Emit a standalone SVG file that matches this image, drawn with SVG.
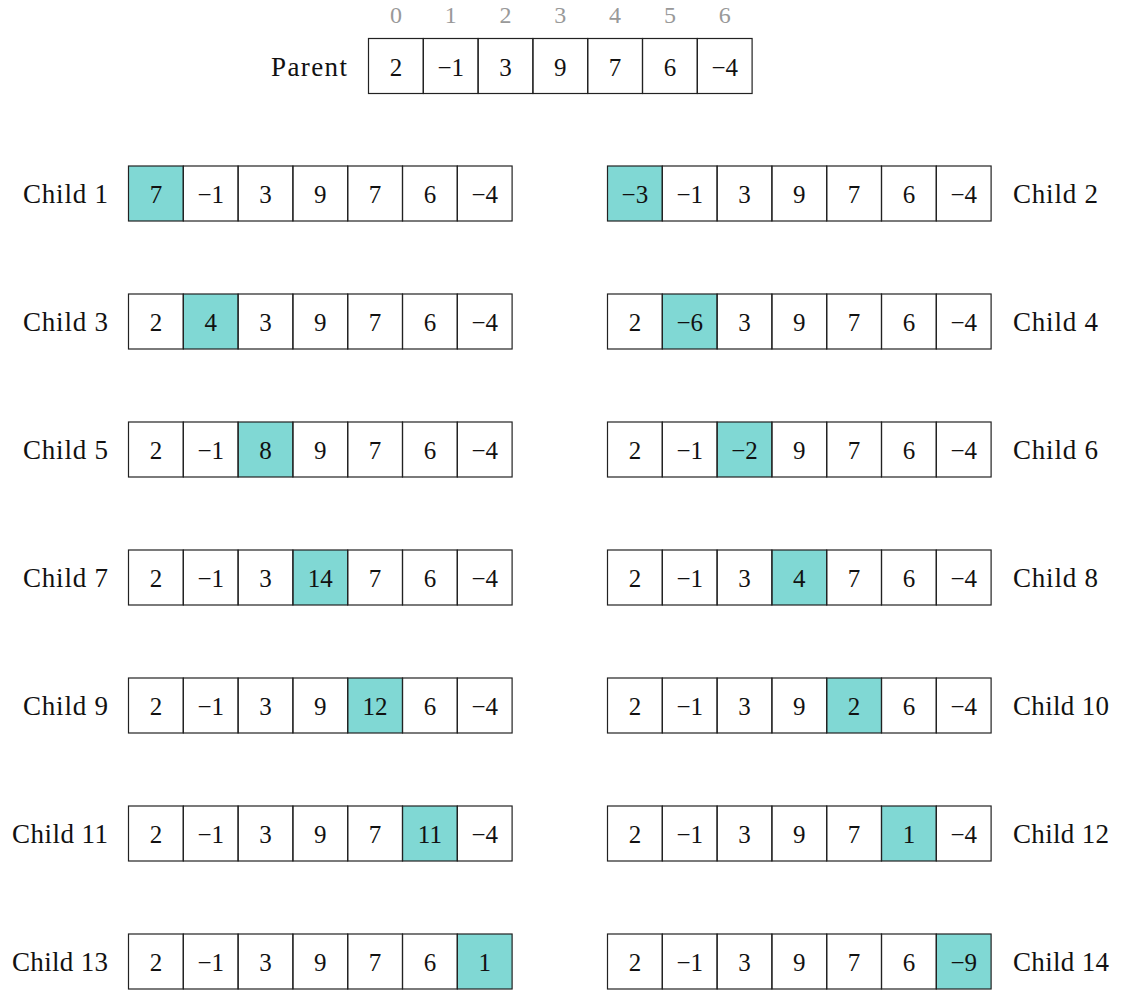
<svg xmlns="http://www.w3.org/2000/svg" xmlns:xlink="http://www.w3.org/1999/xlink" width="1124" height="991" viewBox="0 0 1124 991">
<style>
text{font-family:"Liberation Serif","DejaVu Serif",serif;fill:#111}
.v{font-size:25px;text-anchor:middle}
.idx{font-size:24px;text-anchor:middle;fill:#999}
.lab{font-size:27px}
.ll{text-anchor:end}
.hl{fill:#80D8D4}
.cell{fill:none;stroke:#222;stroke-width:1.2}
</style>
<defs>
<g id="grid">
<rect class="cell" x="0" y="0" width="54.8" height="55"/>
<rect class="cell" x="54.8" y="0" width="54.8" height="55"/>
<rect class="cell" x="109.6" y="0" width="54.8" height="55"/>
<rect class="cell" x="164.4" y="0" width="54.8" height="55"/>
<rect class="cell" x="219.2" y="0" width="54.8" height="55"/>
<rect class="cell" x="274" y="0" width="54.8" height="55"/>
<rect class="cell" x="328.8" y="0" width="54.8" height="55"/>
</g>
</defs>
<rect width="1124" height="991" fill="#fff"/>
<g id="connectors"/>

<g id="parent">
<g transform="translate(368.5,38.5)">
<use href="#grid"/>
<text class="v" x="27.4" y="37">2</text><text class="v" x="82.2" y="37">−1</text><text class="v" x="137" y="37">3</text><text class="v" x="191.8" y="37">9</text><text class="v" x="246.6" y="37">7</text><text class="v" x="301.4" y="37">6</text><text class="v" x="356.2" y="37">−4</text>
<text class="idx" x="27.4" y="-16">0</text><text class="idx" x="82.2" y="-16">1</text><text class="idx" x="137" y="-16">2</text><text class="idx" x="191.8" y="-16">3</text><text class="idx" x="246.6" y="-16">4</text><text class="idx" x="301.4" y="-16">5</text><text class="idx" x="356.2" y="-16">6</text>
</g>
<text class="lab ll" x="347" y="76" textLength="76">Parent</text>
</g>

<g id="child1">
<g transform="translate(128.5,166)">
<rect class="hl" x="0" y="0" width="54.8" height="55"/><use href="#grid"/>
<text class="v" x="27.4" y="37">7</text><text class="v" x="82.2" y="37">−1</text><text class="v" x="137" y="37">3</text><text class="v" x="191.8" y="37">9</text><text class="v" x="246.6" y="37">7</text><text class="v" x="301.4" y="37">6</text><text class="v" x="356.2" y="37">−4</text>
</g>
<text class="lab ll" x="108" y="203" textLength="85">Child 1</text>
</g>

<g id="child2">
<g transform="translate(607.5,166)">
<rect class="hl" x="0" y="0" width="54.8" height="55"/><use href="#grid"/>
<text class="v" x="27.4" y="37">−3</text><text class="v" x="82.2" y="37">−1</text><text class="v" x="137" y="37">3</text><text class="v" x="191.8" y="37">9</text><text class="v" x="246.6" y="37">7</text><text class="v" x="301.4" y="37">6</text><text class="v" x="356.2" y="37">−4</text>
</g>
<text class="lab" x="1013" y="203" textLength="85">Child 2</text>
</g>

<g id="child3">
<g transform="translate(128.5,294)">
<rect class="hl" x="54.8" y="0" width="54.8" height="55"/><use href="#grid"/>
<text class="v" x="27.4" y="37">2</text><text class="v" x="82.2" y="37">4</text><text class="v" x="137" y="37">3</text><text class="v" x="191.8" y="37">9</text><text class="v" x="246.6" y="37">7</text><text class="v" x="301.4" y="37">6</text><text class="v" x="356.2" y="37">−4</text>
</g>
<text class="lab ll" x="108" y="331" textLength="85">Child 3</text>
</g>

<g id="child4">
<g transform="translate(607.5,294)">
<rect class="hl" x="54.8" y="0" width="54.8" height="55"/><use href="#grid"/>
<text class="v" x="27.4" y="37">2</text><text class="v" x="82.2" y="37">−6</text><text class="v" x="137" y="37">3</text><text class="v" x="191.8" y="37">9</text><text class="v" x="246.6" y="37">7</text><text class="v" x="301.4" y="37">6</text><text class="v" x="356.2" y="37">−4</text>
</g>
<text class="lab" x="1013" y="331" textLength="85">Child 4</text>
</g>

<g id="child5">
<g transform="translate(128.5,422)">
<rect class="hl" x="109.6" y="0" width="54.8" height="55"/><use href="#grid"/>
<text class="v" x="27.4" y="37">2</text><text class="v" x="82.2" y="37">−1</text><text class="v" x="137" y="37">8</text><text class="v" x="191.8" y="37">9</text><text class="v" x="246.6" y="37">7</text><text class="v" x="301.4" y="37">6</text><text class="v" x="356.2" y="37">−4</text>
</g>
<text class="lab ll" x="108" y="459" textLength="85">Child 5</text>
</g>

<g id="child6">
<g transform="translate(607.5,422)">
<rect class="hl" x="109.6" y="0" width="54.8" height="55"/><use href="#grid"/>
<text class="v" x="27.4" y="37">2</text><text class="v" x="82.2" y="37">−1</text><text class="v" x="137" y="37">−2</text><text class="v" x="191.8" y="37">9</text><text class="v" x="246.6" y="37">7</text><text class="v" x="301.4" y="37">6</text><text class="v" x="356.2" y="37">−4</text>
</g>
<text class="lab" x="1013" y="459" textLength="85">Child 6</text>
</g>

<g id="child7">
<g transform="translate(128.5,550)">
<rect class="hl" x="164.4" y="0" width="54.8" height="55"/><use href="#grid"/>
<text class="v" x="27.4" y="37">2</text><text class="v" x="82.2" y="37">−1</text><text class="v" x="137" y="37">3</text><text class="v" x="191.8" y="37">14</text><text class="v" x="246.6" y="37">7</text><text class="v" x="301.4" y="37">6</text><text class="v" x="356.2" y="37">−4</text>
</g>
<text class="lab ll" x="108" y="587" textLength="85">Child 7</text>
</g>

<g id="child8">
<g transform="translate(607.5,550)">
<rect class="hl" x="164.4" y="0" width="54.8" height="55"/><use href="#grid"/>
<text class="v" x="27.4" y="37">2</text><text class="v" x="82.2" y="37">−1</text><text class="v" x="137" y="37">3</text><text class="v" x="191.8" y="37">4</text><text class="v" x="246.6" y="37">7</text><text class="v" x="301.4" y="37">6</text><text class="v" x="356.2" y="37">−4</text>
</g>
<text class="lab" x="1013" y="587" textLength="85">Child 8</text>
</g>

<g id="child9">
<g transform="translate(128.5,678)">
<rect class="hl" x="219.2" y="0" width="54.8" height="55"/><use href="#grid"/>
<text class="v" x="27.4" y="37">2</text><text class="v" x="82.2" y="37">−1</text><text class="v" x="137" y="37">3</text><text class="v" x="191.8" y="37">9</text><text class="v" x="246.6" y="37">12</text><text class="v" x="301.4" y="37">6</text><text class="v" x="356.2" y="37">−4</text>
</g>
<text class="lab ll" x="108" y="715" textLength="85">Child 9</text>
</g>

<g id="child10">
<g transform="translate(607.5,678)">
<rect class="hl" x="219.2" y="0" width="54.8" height="55"/><use href="#grid"/>
<text class="v" x="27.4" y="37">2</text><text class="v" x="82.2" y="37">−1</text><text class="v" x="137" y="37">3</text><text class="v" x="191.8" y="37">9</text><text class="v" x="246.6" y="37">2</text><text class="v" x="301.4" y="37">6</text><text class="v" x="356.2" y="37">−4</text>
</g>
<text class="lab" x="1013" y="715" textLength="96">Child 10</text>
</g>

<g id="child11">
<g transform="translate(128.5,806)">
<rect class="hl" x="274" y="0" width="54.8" height="55"/><use href="#grid"/>
<text class="v" x="27.4" y="37">2</text><text class="v" x="82.2" y="37">−1</text><text class="v" x="137" y="37">3</text><text class="v" x="191.8" y="37">9</text><text class="v" x="246.6" y="37">7</text><text class="v" x="301.4" y="37">11</text><text class="v" x="356.2" y="37">−4</text>
</g>
<text class="lab ll" x="108" y="843" textLength="96">Child 11</text>
</g>

<g id="child12">
<g transform="translate(607.5,806)">
<rect class="hl" x="274" y="0" width="54.8" height="55"/><use href="#grid"/>
<text class="v" x="27.4" y="37">2</text><text class="v" x="82.2" y="37">−1</text><text class="v" x="137" y="37">3</text><text class="v" x="191.8" y="37">9</text><text class="v" x="246.6" y="37">7</text><text class="v" x="301.4" y="37">1</text><text class="v" x="356.2" y="37">−4</text>
</g>
<text class="lab" x="1013" y="843" textLength="96">Child 12</text>
</g>

<g id="child13">
<g transform="translate(128.5,934)">
<rect class="hl" x="328.8" y="0" width="54.8" height="55"/><use href="#grid"/>
<text class="v" x="27.4" y="37">2</text><text class="v" x="82.2" y="37">−1</text><text class="v" x="137" y="37">3</text><text class="v" x="191.8" y="37">9</text><text class="v" x="246.6" y="37">7</text><text class="v" x="301.4" y="37">6</text><text class="v" x="356.2" y="37">1</text>
</g>
<text class="lab ll" x="108" y="971" textLength="96">Child 13</text>
</g>

<g id="child14">
<g transform="translate(607.5,934)">
<rect class="hl" x="328.8" y="0" width="54.8" height="55"/><use href="#grid"/>
<text class="v" x="27.4" y="37">2</text><text class="v" x="82.2" y="37">−1</text><text class="v" x="137" y="37">3</text><text class="v" x="191.8" y="37">9</text><text class="v" x="246.6" y="37">7</text><text class="v" x="301.4" y="37">6</text><text class="v" x="356.2" y="37">−9</text>
</g>
<text class="lab" x="1013" y="971" textLength="96">Child 14</text>
</g>
</svg>
